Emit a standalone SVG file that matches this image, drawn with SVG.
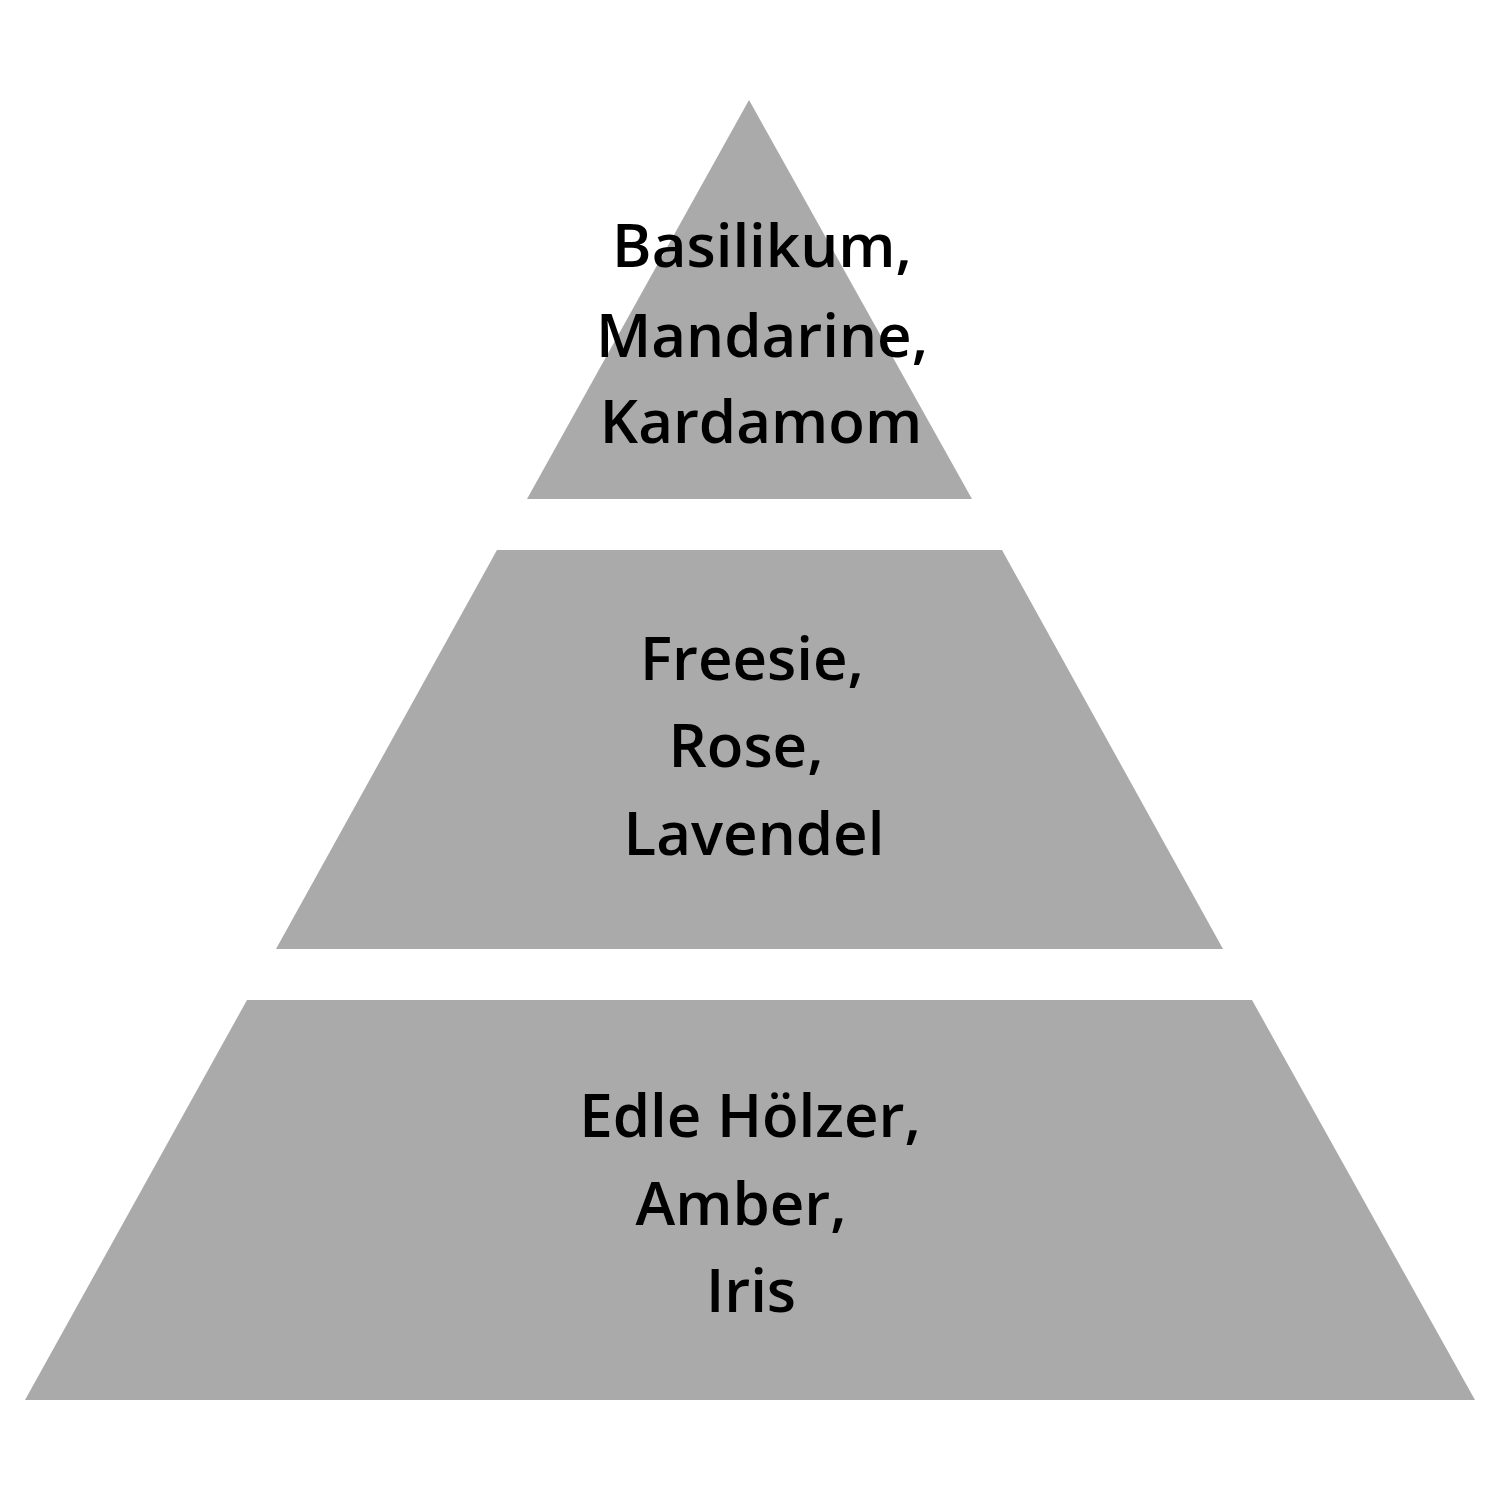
<svg xmlns="http://www.w3.org/2000/svg" width="1500" height="1500" viewBox="0 0 1500 1500">
<style>
.tier{fill:#aaaaaa;stroke:none}
.lbl{font-family:"Open Sans","Noto Sans","Liberation Sans",sans-serif;font-weight:600;font-size:60px;fill:#000;text-anchor:middle}
</style>
<rect width="1500" height="1500" fill="#ffffff"/>
<g id="tier-top">
<polygon class="tier" points="749,100 972,499 527,499"/>
<text class="lbl" x="762" y="267">Basilikum,</text>
<text class="lbl" x="762" y="357">Mandarine,</text>
<text class="lbl" x="761" y="443">Kardamom</text>
</g>
<g id="tier-middle">
<polygon class="tier" points="497,550 1002,550 1223,949 276,949"/>
<text class="lbl" x="752" y="680">Freesie,</text>
<text class="lbl" x="746" y="767">Rose,</text>
<text class="lbl" x="754" y="855">Lavendel</text>
</g>
<g id="tier-bottom">
<polygon class="tier" points="247,1000 1252,1000 1475,1400 25,1400"/>
<text class="lbl" x="750" y="1137">Edle Hölzer,</text>
<text class="lbl" x="741" y="1225">Amber,</text>
<text class="lbl" x="751" y="1312">Iris</text>
</g>
<g id="connectors"/>
</svg>
